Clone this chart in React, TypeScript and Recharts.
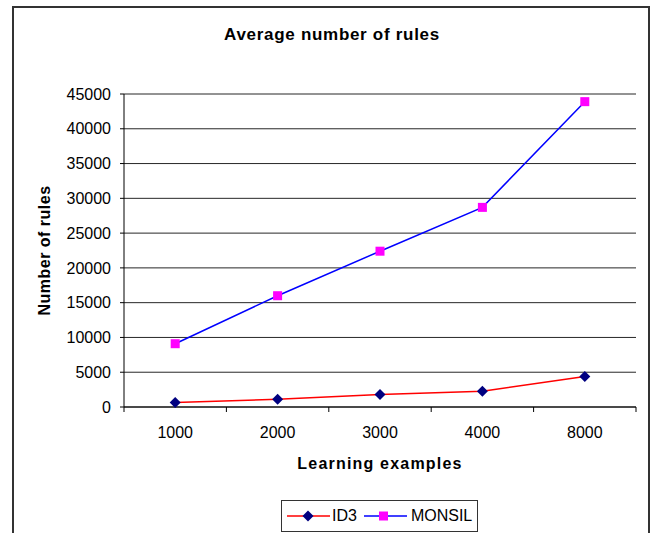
import React from 'react';
import {
  LineChart,
  Line,
  XAxis,
  YAxis,
  CartesianGrid,
  Legend,
  Label,
} from 'recharts';

// values
const categories = ['1000', '2000', '3000', '4000', '8000'];
const id3Values = [650, 1100, 1800, 2250, 4400];
const monsilValues = [9100, 16000, 22400, 28700, 43900];
const yTicks = [0, 5000, 10000, 15000, 20000, 25000, 30000, 35000, 40000, 45000];

const FONT = '"Liberation Sans", Arial, sans-serif';

const chartData = categories.map((c, i) => ({
  examples: c,
  ID3: id3Values[i],
  MONSIL: monsilValues[i],
}));

// Excel style category ticks: label in the middle, tick marks on the band edges
function XTick(props: any) {
  const { x, y, payload, index, width, visibleTicksCount } = props;
  const count = visibleTicksCount || categories.length;
  const bw = width / count;
  return (
    <g>
      <line x1={x - bw / 2} x2={x - bw / 2} y1={y} y2={y + 5} stroke="#000" />
      {index === count - 1 && (
        <line x1={x + bw / 2} x2={x + bw / 2} y1={y} y2={y + 5} stroke="#000" />
      )}
      <text x={x} y={y + 31} textAnchor="middle" fontSize={16} fontFamily={FONT} fill="#000">
        {payload.value}
      </text>
    </g>
  );
}

function Diamond(props: any) {
  const { cx, cy } = props;
  if (cx == null || cy == null) return null;
  const r = 5.5;
  return (
    <polygon
      points={`${cx},${cy - r} ${cx + r},${cy} ${cx},${cy + r} ${cx - r},${cy}`}
      fill="#000080"
    />
  );
}

function Square(props: any) {
  const { cx, cy } = props;
  if (cx == null || cy == null) return null;
  return <rect x={cx - 4.5} y={cy - 4.5} width={9} height={9} fill="#ff00ff" />;
}

function LegendBox() {
  return (
    <div
      style={{
        boxSizing: 'border-box',
        height: 32,
        width: 197,
        border: '1px solid #333',
        display: 'flex',
        alignItems: 'center',
        fontFamily: FONT,
        fontSize: 16,
        color: '#000',
        paddingLeft: 5,
        background: '#fff',
      }}
    >
      <svg width={44} height={12}>
        <line x1={0} x2={43} y1={6} y2={6} stroke="#ff0000" strokeWidth={1.5} />
        <polygon points="21,0.5 26.5,6 21,11.5 15.5,6" fill="#000080" />
      </svg>
      <span style={{ marginLeft: 1, marginRight: 7 }}>ID3</span>
      <svg width={44} height={12}>
        <line x1={0} x2={43} y1={6} y2={6} stroke="#0000ff" strokeWidth={1.5} />
        <rect x={15} y={1.5} width={9} height={9} fill="#ff00ff" />
      </svg>
      <span style={{ marginLeft: 3 }}>MONSIL</span>
    </div>
  );
}

export default function App() {
  return (
    <div style={{ position: 'absolute', left: 0, top: 0, background: '#fff' }}>
      <LineChart
        width={653}
        height={533}
        data={chartData}
        margin={{ top: 94, right: 17, left: 30, bottom: 24 }}
      >
        <rect x={13} y={7} width={636} height={540} fill="none" stroke="#333" strokeWidth={2} />
        <text
          x={332}
          y={40}
          textAnchor="middle"
          fontSize={17}
          fontWeight="bold"
          letterSpacing={0.7}
          fontFamily={FONT}
          fill="#000"
        >
          Average number of rules
        </text>
        <CartesianGrid vertical={false} stroke="#000" strokeOpacity={0.85} />
        <XAxis
          dataKey="examples"
          scale="band"
          interval={0}
          height={70}
          tickLine={false}
          tickSize={0}
          tickMargin={0}
          axisLine={{ stroke: '#000' }}
          tick={<XTick />}
        >
          <Label
            value="Learning examples"
            position="insideBottom"
            offset={8}
            style={{
              fontFamily: FONT,
              fontSize: 16,
              fontWeight: 'bold',
              letterSpacing: 1.2,
              fill: '#000',
            }}
          />
        </XAxis>
        <XAxis
          xAxisId="top"
          orientation="top"
          dataKey="examples"
          scale="band"
          height={0}
          tick={false}
          tickLine={false}
          axisLine={{ stroke: '#999' }}
        />
        <YAxis
          domain={[0, 45000]}
          ticks={yTicks}
          interval={0}
          width={94}
          tickSize={4}
          tickMargin={9}
          tickLine={{ stroke: '#000' }}
          axisLine={{ stroke: '#000' }}
          tick={{ fontSize: 16, fontFamily: FONT, fill: '#000' }}
        >
          <Label
            value="Number of rules"
            angle={-90}
            position="insideLeft"
            offset={14}
            style={{
              textAnchor: 'middle',
              fontFamily: FONT,
              fontSize: 16,
              fontWeight: 'bold',
              letterSpacing: 0.5,
              fill: '#000',
            }}
          />
        </YAxis>
        <YAxis
          yAxisId="right"
          orientation="right"
          domain={[0, 45000]}
          width={0}
          tick={false}
          tickLine={false}
          axisLine={{ stroke: '#999' }}
        />
        <Legend
          content={<LegendBox />}
          wrapperStyle={{ left: 281, top: 500, bottom: 'auto', width: 197, height: 32 }}
        />
        <Line
          dataKey="ID3"
          stroke="#ff0000"
          strokeWidth={1.5}
          dot={<Diamond />}
          activeDot={false}
          isAnimationActive={false}
        />
        <Line
          dataKey="MONSIL"
          stroke="#0000ff"
          strokeWidth={1.5}
          dot={<Square />}
          activeDot={false}
          isAnimationActive={false}
        />
      </LineChart>
    </div>
  );
}
